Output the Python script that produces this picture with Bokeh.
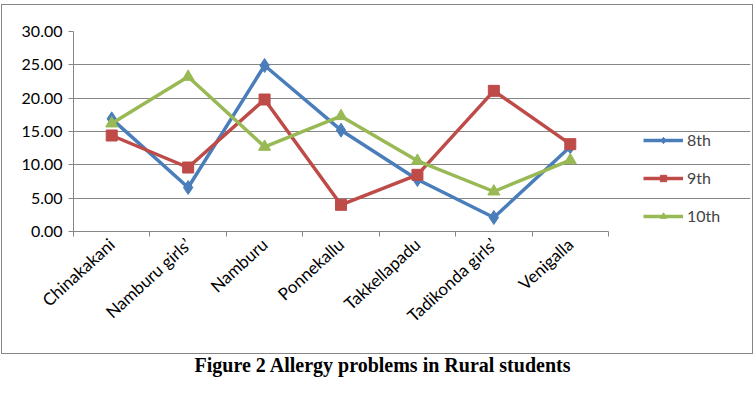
from bokeh.plotting import figure
from bokeh.layouts import column
from bokeh.models import (FixedTicker, Legend, LegendItem, Range1d,
                          NumeralTickFormatter, Div)
from bokeh.embed import file_html
from bokeh.resources import INLINE

# Schools (x categories) and share of students with allergy problems per class
schools = ["Chinakakani", "Namburu girls\u2019", "Namburu", "Ponnekallu",
           "Takkellapadu", "Tadikonda girls\u2019", "Venigalla"]
class_8th = [16.9, 6.6, 24.9, 15.2, 7.8, 2.1, 12.7]
class_9th = [14.4, 9.6, 19.8, 4.0, 8.5, 21.1, 13.1]
class_10th = [16.2, 23.2, 12.7, 17.3, 10.6, 6.0, 10.7]
y_ticks = [0, 5, 10, 15, 20, 25, 30]

BLUE, RED, GREEN = "#4A7EBB", "#BE4B48", "#98B954"
FONT = "Lato"
GREY = "#868686"

W, H = 750, 348
LEFT, RIGHT, TOP, BOTTOM = 71, 2, 26, 122
PLOT_W = 535                      # width used by the category axis
frame_w = W - LEFT - RIGHT
n = len(schools)
x_end = n * frame_w / PLOT_W      # extra room on the right holds the legend

p = figure(width=W, height=H, output_backend="svg", toolbar_location=None,
           x_range=Range1d(0, x_end), y_range=Range1d(0, 30),
           min_border_left=LEFT, min_border_right=RIGHT,
           min_border_top=TOP, min_border_bottom=BOTTOM)
p.outline_line_color = None
p.background_fill_color = "white"
p.border_fill_color = "white"
p.styles = {"outline": "1px solid #868686", "margin-left": "2px",
            "margin-top": "5px"}

xs = [i + 0.5 for i in range(n)]

# x axis: labels at category centres, tick marks on category boundaries
p.xaxis.bounds = (0, n)
p.xaxis.ticker = FixedTicker(ticks=xs, minor_ticks=list(range(n + 1)))
p.xaxis.major_label_overrides = {x: s for x, s in zip(xs, schools)}
p.xaxis.major_label_orientation = 0.74
p.xaxis.major_tick_line_color = None
p.xaxis.minor_tick_line_color = GREY
p.xaxis.minor_tick_in = 0
p.xaxis.minor_tick_out = 5
p.xaxis.axis_line_color = GREY
p.xaxis.major_label_text_font = FONT
p.xaxis.major_label_text_font_size = "17px"
p.xaxis.major_label_text_color = "#000000"
p.xaxis.major_label_standoff = 4
p.xgrid.grid_line_color = None

p.yaxis.ticker = FixedTicker(ticks=y_ticks)
p.yaxis.formatter = NumeralTickFormatter(format="0.00")
p.yaxis.major_tick_in = 0
p.yaxis.major_tick_out = 5
p.yaxis.minor_tick_line_color = None
p.yaxis.axis_line_color = GREY
p.yaxis.major_tick_line_color = GREY
p.yaxis.major_label_text_font = FONT
p.yaxis.major_label_text_font_size = "16px"
p.yaxis.major_label_text_color = "#000000"
p.yaxis.major_label_standoff = 6
p.ygrid.grid_line_color = GREY
p.ygrid.grid_line_width = 1
p.ygrid.bounds = (0, n)

items = []
series = [("8th", class_8th, BLUE, "diamond", 14),
          ("9th", class_9th, RED, "square", 11),
          ("10th", class_10th, GREEN, "triangle", 12)]
for name, vals, col, marker, size in series:
    ln = p.line(xs, vals, line_color=col, line_width=3.5)
    mk = p.scatter(xs, vals, marker=marker, size=size, fill_color=col,
                   line_color=col)
    items.append(LegendItem(label=name, renderers=[ln, mk]))

legend = Legend(items=items, location=(570, 6), padding=0, margin=0,
                spacing=19, glyph_width=40, glyph_height=16, label_standoff=4,
                label_text_font=FONT, label_text_font_size="16px",
                border_line_color=None, background_fill_alpha=0)
p.add_layout(legend, "center")

caption = Div(text="Figure 2 Allergy problems in Rural students", width=755,
              styles={"font-family": "Liberation Serif", "font-weight": "bold",
                      "font-size": "20px", "text-align": "center",
                      "color": "#000000", "margin-top": "-2px"})

layout = column(p, caption)
open("out.html", "w").write(file_html(layout, INLINE))
